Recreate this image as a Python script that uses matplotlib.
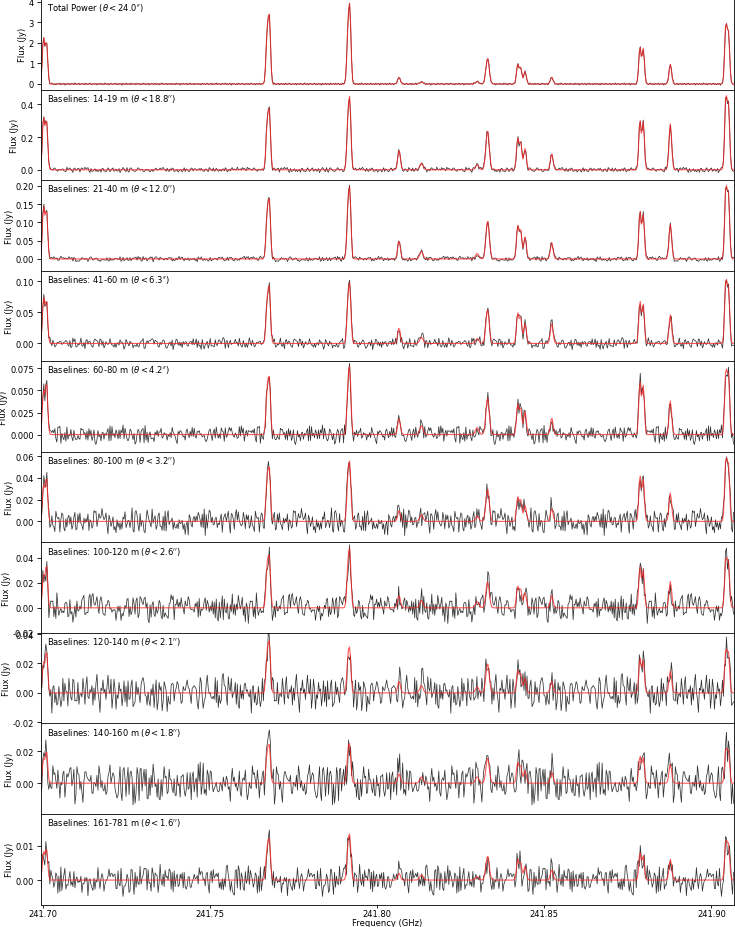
#!/usr/bin/env python3

# import modules
import numpy as np
import matplotlib
matplotlib.use('Agg')
from matplotlib import pyplot as plt
from matplotlib.ticker import FormatStrFormatter

# line catalogue: centre frequency (GHz) and gaussian width (GHz) of each model component
line_freq = [241.7001, 241.7010, 241.7670, 241.7677, 241.7912, 241.7918, 241.8065,
             241.8132, 241.8299, 241.8330, 241.8420, 241.8429, 241.8442, 241.8522,
             241.8786, 241.8796, 241.8877, 241.9043, 241.9051]
line_width = [0.00035, 0.00035, 0.00035, 0.00035, 0.00035, 0.00035, 0.0004,
              0.0005, 0.0005, 0.0005, 0.00035, 0.00035, 0.0004, 0.0004,
              0.00035, 0.00035, 0.0004, 0.00035, 0.00035]

peak_tp = [2.2, 2.0, 2.2, 3.1, 2.2, 3.25, 0.33, 0.1, 0.12, 1.25, 0.95, 0.8, 0.6, 0.33, 1.8, 1.7, 0.95, 2.8, 2.4]
peak_14_19 = [0.31, 0.3, 0.25, 0.34, 0.26, 0.37, 0.12, 0.04, 0.03, 0.24, 0.19, 0.17, 0.13, 0.1, 0.3, 0.29, 0.28, 0.43, 0.38]
peak_21_40 = [0.14, 0.13, 0.11, 0.15, 0.12, 0.16, 0.05, 0.02, 0.015, 0.105, 0.09, 0.08, 0.06, 0.045, 0.13, 0.12, 0.095, 0.19, 0.17]
peak_41_60 = [0.072, 0.068, 0.06, 0.085, 0.058, 0.08, 0.025, 0.01, 0.008, 0.055, 0.048, 0.042, 0.032, 0.033, 0.068, 0.062, 0.046, 0.098, 0.085]
peak_60_80 = [0.048, 0.058, 0.045, 0.06, 0.045, 0.064, 0.018, 0.01, 0.008, 0.042, 0.034, 0.03, 0.026, 0.019, 0.06, 0.055, 0.038, 0.07, 0.065]
peak_80_100 = [0.032, 0.04, 0.035, 0.045, 0.034, 0.045, 0.01, 0.006, 0.005, 0.03, 0.022, 0.02, 0.015, 0.012, 0.042, 0.038, 0.026, 0.055, 0.05]
peak_100_120 = [0.025, 0.034, 0.03, 0.038, 0.029, 0.039, 0.01, 0.006, 0.005, 0.021, 0.017, 0.015, 0.012, 0.01, 0.033, 0.03, 0.021, 0.038, 0.035]
peak_120_140 = [0.02, 0.028, 0.024, 0.032, 0.02, 0.025, 0.008, 0.005, 0.004, 0.02, 0.015, 0.013, 0.01, 0.008, 0.024, 0.022, 0.015, 0.028, 0.026]
peak_140_160 = [0.015, 0.02, 0.017, 0.022, 0.016, 0.02, 0.006, 0.004, 0.004, 0.016, 0.013, 0.011, 0.008, 0.007, 0.017, 0.016, 0.012, 0.021, 0.019]
peak_161_781 = [0.008, 0.009, 0.008, 0.011, 0.008, 0.011, 0.002, 0.0015, 0.001, 0.007, 0.006, 0.005, 0.004, 0.003, 0.008, 0.007, 0.006, 0.011, 0.01]

# rms of the residuals in each panel (Jy)
noise_rms = [0.024, 0.007, 0.0032, 0.004, 0.0045, 0.0052, 0.005, 0.0055, 0.0055, 0.0019]

# residual pattern (in units of rms)
resid = [0.3, -1.1, 0.8, 1.6, -0.4, -1.9, 0.2, 0.9, -0.7, 1.2, -1.4, 0.5, 2.1, -0.2, -1.0, 0.6, -1.7, 1.1, 0.1, -0.6,
         1.8, -1.3, 0.4, -0.1, 1.4, -2.2, 0.7, -0.8, 1.0, 0.2, -1.5, 1.3, -0.3, 0.9, -1.2, 2.4, -0.5, -0.9, 0.3, 1.5,
         -1.8, 0.0, 1.1, -0.6, 0.8, -1.4, 1.7, -0.2, -1.1, 0.5, 1.9, -0.7, -1.6, 0.6, 0.2, -0.4, 1.2, -2.0, 0.9, 0.4,
         -1.0, 1.6, -0.8, 0.1, -1.3, 2.2, -0.1, -0.6, 1.0, -1.9, 0.7, 1.4, -0.3, -1.2, 0.3, 1.8, -0.9, 0.5, -1.5, 1.1,
         -0.4, 0.8, -2.5, 1.3, 0.0, -0.7, 1.6, -1.1, 0.6, 0.2, -1.7, 2.0, -0.5, -0.2, 0.9, -1.3, 1.5, -0.8, 0.4, 1.2,
         -1.6, 0.1, -1.0, 1.9, -0.3, 0.7, -1.4, 0.5, 1.0, -2.1, 0.8, -0.1, 1.3, -0.9, -0.5, 1.7, -1.2, 0.3, 0.6, -1.8,
         1.1, -0.6, 2.3, -0.4, -1.0, 0.2, 1.4, -1.5, 0.9, -0.2, -0.8, 1.6, -1.1, 0.4, 0.0, -1.4, 1.8, -0.7, 0.5, 1.0,
         -2.3, 0.7, -0.3, 1.2, -0.9, 0.1, 1.5, -1.6, 0.6, -0.5, 2.0, -1.2, -0.1, 0.8, -1.7, 1.3, 0.3, -0.6, 1.1, -1.0,
         0.4, -2.0, 1.6, -0.4, 0.9, -1.3, 0.2, 1.7, -0.8, -1.1, 0.5, 1.4, -1.9, 0.6, 0.0, -0.5, 2.2, -1.4, 0.3, 1.0,
         -0.7, -1.6, 1.2, 0.1, -0.2, 1.9, -1.2, 0.7, -0.9, 0.4, 1.5, -2.4, 0.8, -0.3, 1.1, -1.0, 0.2, -1.5, 1.8]
resid_stride = [1, 3, 7, 11, 13, 17, 19, 23, 29, 31]
resid_offset = [0, 41, 87, 12, 150, 63, 110, 5, 171, 96]

labels = [r"Total Power ($\theta < 24.0''$)",
          r"Baselines: 14-19 m ($\theta < 18.8''$)",
          r"Baselines: 21-40 m ($\theta < 12.0''$)",
          r"Baselines: 41-60 m ($\theta < 6.3''$)",
          r"Baselines: 60-80 m ($\theta < 4.2''$)",
          r"Baselines: 80-100 m ($\theta < 3.2''$)",
          r"Baselines: 100-120 m ($\theta < 2.6''$)",
          r"Baselines: 120-140 m ($\theta < 2.1''$)",
          r"Baselines: 140-160 m ($\theta < 1.8''$)",
          r"Baselines: 161-781 m ($\theta < 1.6''$)"]

ylims = [(-0.27, 4.13), (-0.063, 0.49), (-0.032, 0.2155), (-0.0285, 0.117), (-0.0195, 0.0832),
         (-0.0192, 0.064), (-0.0199, 0.0524), (-0.0207, 0.0408), (-0.0194, 0.0377), (-0.0071, 0.0192)]
yticks = [[0, 1, 2, 3, 4], [0.0, 0.2, 0.4], [0.0, 0.05, 0.10, 0.15, 0.20], [0.0, 0.05, 0.10],
          [0.0, 0.025, 0.05, 0.075], [0.0, 0.02, 0.04, 0.06], [-0.02, 0.0, 0.02, 0.04],
          [-0.02, 0.0, 0.02, 0.04], [0.0, 0.02], [0.0, 0.01]]
yfmt = ['%d', '%.1f', '%.2f', '%.2f', '%.3f', '%.2f', '%.2f', '%.2f', '%.2f', '%.2f']

peaks = [peak_tp, peak_14_19, peak_21_40, peak_41_60, peak_60_80,
         peak_80_100, peak_100_120, peak_120_140, peak_140_160, peak_161_781]

# channel grid
freq = np.arange(241.6990, 241.9068, 0.0003)
xlim = (241.6992, 241.9066)

plt.rcParams['font.size'] = 6.0
plt.rcParams['axes.linewidth'] = 0.6
plt.rcParams['ytick.major.size'] = 2.6
plt.rcParams['ytick.major.width'] = 0.6
plt.rcParams['ytick.major.pad'] = 2.0
plt.rcParams['xtick.major.size'] = 2.2
plt.rcParams['xtick.major.width'] = 0.6
plt.rcParams['xtick.major.pad'] = 1.0

fig = plt.figure(figsize=(7.35, 9.28), dpi=100)

left, right = 40.5 / 735, 733.5 / 735
bottom, top = 22.5 / 928, 1.0
h = (top - bottom) / len(labels)

resid_arr = np.array(resid)
for i, label in enumerate(labels):
	ax = fig.add_axes([left, top - (i + 1) * h, right - left, h])
	model = np.zeros_like(freq)
	for f0, w, a in zip(line_freq, line_width, peaks[i]):
		model += a * np.exp(-0.5 * ((freq - f0) / w) ** 2)
	idx = (np.arange(len(freq)) * resid_stride[i] + resid_offset[i]) % len(resid_arr)
	obs = model + noise_rms[i] * resid_arr[idx]

	ax.plot(freq, obs, color='k', lw=0.55, alpha=0.8)
	ax.plot(freq, model, color='#ff2020', lw=0.8, alpha=0.75)

	ax.set_xlim(*xlim)
	ax.set_ylim(*ylims[i])
	ax.set_yticks(yticks[i])
	ax.yaxis.set_major_formatter(FormatStrFormatter(yfmt[i]))
	ax.set_xticks([241.70, 241.75, 241.80, 241.85, 241.90])
	ax.set_ylabel('Flux (Jy)', labelpad=1.5)
	ax.text(0.01, 0.975, label, transform=ax.transAxes, va='top', ha='left')
	if i < len(labels) - 1:
		ax.tick_params(labelbottom=False)
	else:
		ax.xaxis.set_major_formatter(FormatStrFormatter('%.2f'))
		ax.set_xlabel('Frequency (GHz)', labelpad=0.0)

# write to disk
fig.savefig('out.png', dpi=100)
